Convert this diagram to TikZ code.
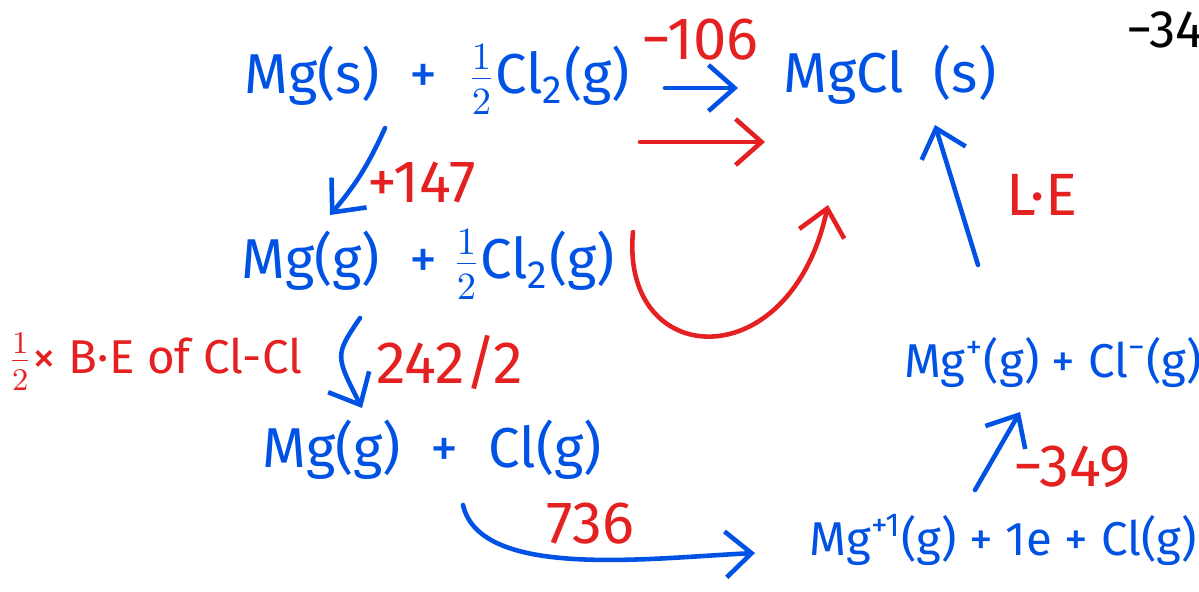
\documentclass[tikz,border=0pt]{standalone}
\usepackage{fontspec}
\setmainfont{Fira Sans}
\usetikzlibrary{arrows.meta}
\definecolor{inkblue}{RGB}{0,82,228}
\definecolor{inkred}{RGB}{228,32,32}
\tikzset{
  species/.style  = {text=inkblue, font=\fontsize{16}{19}\selectfont, inner sep=1pt},
  enthalpy/.style = {text=inkred, font=\fontsize{17}{20}\selectfont, inner sep=1pt},
  bluearrow/.style= {draw=inkblue, line width=1.3pt, line cap=round,
                     -{Straight Barb[length=2.6mm,width=4.6mm]}},
  redarrow/.style = {draw=inkred, line width=1.3pt, line cap=round,
                     -{Straight Barb[length=2.6mm,width=4.6mm]}},
}
\newcommand{\half}{$\frac{1}{2}$}

\begin{document}
\begin{tikzpicture}
\useasboundingbox (0,0) rectangle (11.99,-5.91);
% Species of the cycle
\node[species] (s0)   at (4.37,-0.80) {Mg(s) \ + \ \half Cl\textsubscript{2}(g)};
\node[species] (mgcl) at (8.90,-0.75) {MgCl \ (s)};
\node[species] (s1)   at (4.28,-2.65) {Mg(g) \ + \half Cl\textsubscript{2}(g)};
\node[species] (s2)   at (4.32,-4.50) {Mg(g) \ + \ Cl(g)};
\node[species, font=\fontsize{13.5}{16}\selectfont] (s3) at (10.03,-5.40)
  {Mg\textsuperscript{+1}(g) + 1e + Cl(g)};
\node[species, font=\fontsize{13.5}{16}\selectfont] (s4) at (10.53,-3.62)
  {Mg\textsuperscript{+}(g) + Cl\textsuperscript{−}(g)};
% Enthalpy values
\node[enthalpy] (h106) at (7.00,-0.40) {−106};
\node[enthalpy] (h147) at (4.22,-1.83) {+147};
\node[enthalpy, font=\fontsize{13.5}{16}\selectfont] (hbe) at (1.55,-3.62)
  {\half× B·E of Cl-Cl};
\node[enthalpy] (h242) at (4.50,-3.62) {242/2};
\node[enthalpy] (h736) at (5.90,-5.24) {736};
\node[enthalpy] (h349) at (10.72,-4.67) {−349};
\node[enthalpy] (hle)  at (10.42,-1.95) {L·E};
\node[font=\fontsize{15}{18}\selectfont, anchor=west] (corner) at (11.14,-0.30) {−34};
% Arrow ends
\coordinate (f0) at (6.65,-0.88);
\coordinate (f1) at (7.38,-0.88);
\coordinate (g0) at (6.40,-1.42);
\coordinate (g1) at (7.65,-1.42);
\coordinate (a0) at (3.85,-1.28);
\coordinate (a1) at (3.30,-2.15);
\coordinate (b0) at (3.60,-3.18);
\coordinate (b1) at (3.62,-4.08);
\coordinate (u0) at (6.33,-2.32);
\coordinate (u1) at (8.28,-2.05);
\coordinate (c0) at (4.63,-5.05);
\coordinate (c1) at (7.55,-5.53);
\coordinate (d0) at (9.75,-4.90);
\coordinate (d1) at (10.20,-4.12);
\coordinate (e0) at (9.78,-2.65);
\coordinate (e1) at (9.35,-1.25);
% Arrows
\draw[bluearrow] (f0) -- (f1);
\draw[redarrow]  (g0) -- (g1);
\draw[bluearrow] (a0) to[bend left=8] (a1);
\draw[bluearrow] (b0) .. controls (3.35,-3.55) .. (b1);
\draw[redarrow]  (u0) .. controls (6.20,-3.70) and (7.90,-3.80) .. (u1);
\draw[bluearrow] (c0) .. controls (4.80,-5.80) and (6.50,-5.58) .. (c1);
\draw[bluearrow] (d0) -- (d1);
\draw[bluearrow] (e0) -- (e1);
\end{tikzpicture}
\end{document}
